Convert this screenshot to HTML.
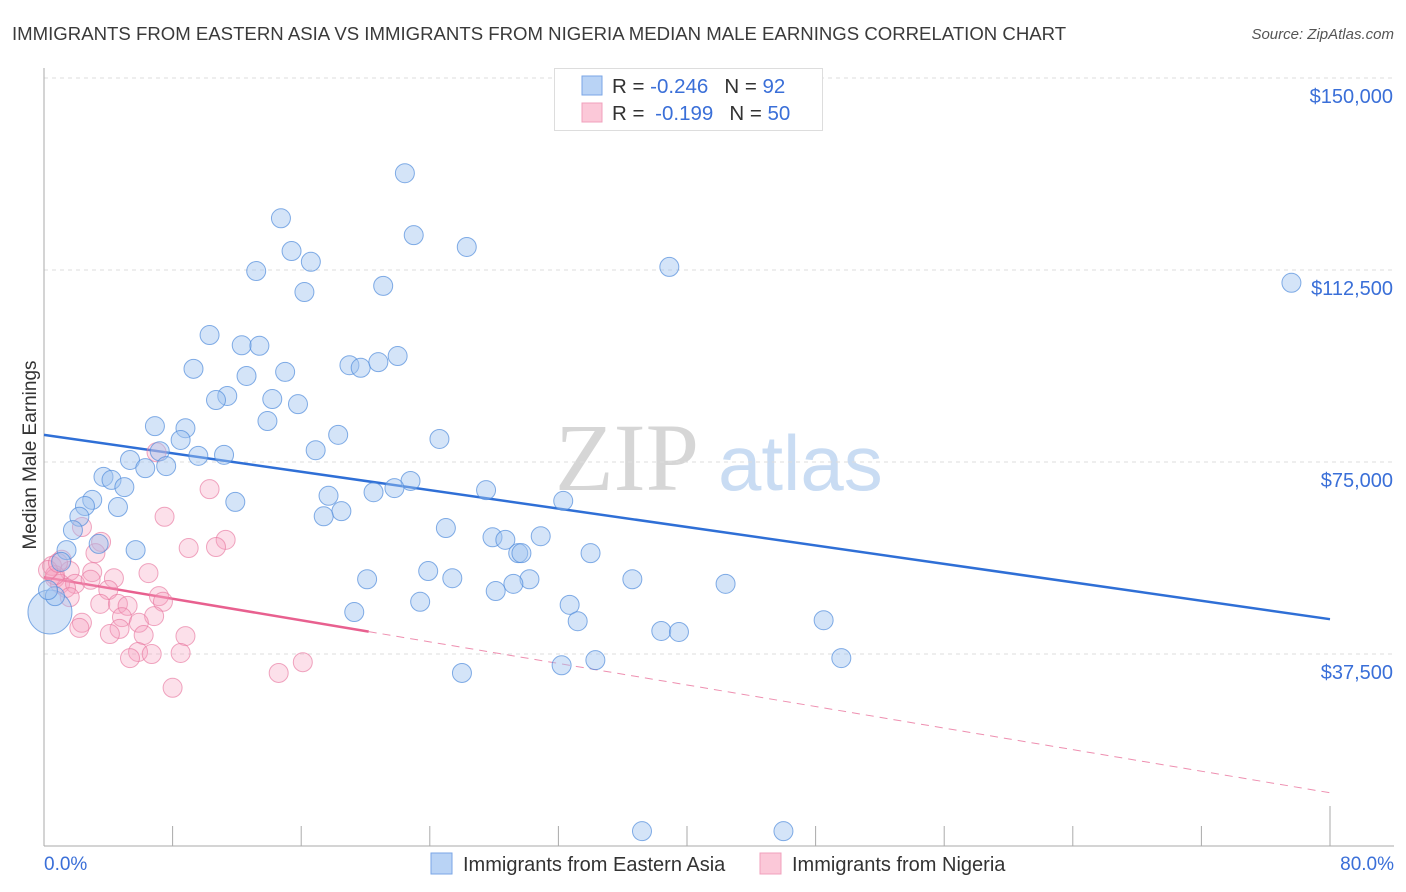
<!DOCTYPE html>
<html><head><meta charset="utf-8"><style>
body{margin:0;background:#fff;font-family:"Liberation Sans",sans-serif;}
#wrap{position:relative;width:1406px;height:892px;overflow:hidden;}
</style></head><body>
<div id="wrap">
<svg id="chart" width="1406" height="892" xmlns="http://www.w3.org/2000/svg">
<text x="12" y="40" font-size="18.6" fill="#3a3a3a">IMMIGRANTS FROM EASTERN ASIA VS IMMIGRANTS FROM NIGERIA MEDIAN MALE EARNINGS CORRELATION CHART</text>
<text x="1394" y="39" font-size="15" font-style="italic" fill="#555" text-anchor="end">Source: ZipAtlas.com</text>
<g>
<text x="555" y="490" font-family="Liberation Serif,serif" font-size="96" fill="#d6d6d6">ZIP</text>
<text x="718" y="490" font-size="78" fill="#c9dcf3">atlas</text>
</g>
<g id="grid"></g>
<g id="axes"></g>
<g id="trends"></g>
<g id="pts"></g>
<text x="36" y="455" font-size="19" fill="#333" text-anchor="middle" transform="rotate(-90 36 455)">Median Male Earnings</text>
<g>
<rect x="554.5" y="68.5" width="268" height="62" fill="#fff" stroke="#ddd"/>
<rect x="582" y="76" width="20" height="19" fill="#b9d3f5" stroke="#7aa6e6"/>
<rect x="582" y="103" width="20" height="19" fill="#fbc8d8" stroke="#f0a0bc"/>
<text x="612" y="93" font-size="20.5" fill="#333">R = <tspan fill="#3a6fd8">-0.246</tspan><tspan dx="16">N = </tspan><tspan fill="#3a6fd8">92</tspan></text>
<text x="612" y="120" font-size="20.5" fill="#333">R = <tspan fill="#3a6fd8" dx="5">-0.199</tspan><tspan dx="16">N = </tspan><tspan fill="#3a6fd8">50</tspan></text>
</g>
<g>
<rect x="431" y="853" width="21" height="21" fill="#b9d3f5" stroke="#7aa6e6"/>
<text x="463" y="871" font-size="20" fill="#333">Immigrants from Eastern Asia</text>
<rect x="760" y="853" width="21" height="21" fill="#fbc8d8" stroke="#f0a0bc"/>
<text x="792" y="871" font-size="20" fill="#333">Immigrants from Nigeria</text>
</g>
</svg>
</div>
<script>
const yTicks=[37500,75000,112500,150000];
const yTickLabels=["$37,500","$75,000","$112,500","$150,000"];
const xTickVals=[0,8,16,24,32,40,48,56,64,72,80];
const xLabels=["0.0%","80.0%"];
const blueX=[22.45,14.74,23.0,26.3,15.4,16.6,13.2,38.9,77.6,21.1,16.2,10.3,12.3,13.4,22.0,19.0,19.7,20.8,9.3,15.0,12.6,11.4,10.7,14.2,15.8,13.9,6.9,8.8,8.5,18.3,24.6,7.2,16.9,9.6,11.2,5.35,6.3,7.6,3.7,4.2,5.0,22.8,21.8,20.5,27.5,3.0,11.9,17.7,32.3,2.55,4.6,18.5,17.4,2.2,25.0,1.8,30.9,27.9,28.7,3.4,5.7,29.5,29.7,34.0,1.4,1.06,23.9,20.1,25.4,36.6,30.2,29.2,42.4,28.1,23.4,19.3,32.7,33.2,48.5,38.4,39.5,34.3,32.2,49.6,26.0,37.2,46.0,0.37,0.68,0.25];
const blueY=[131.4,122.6,119.3,117.0,116.2,114.1,112.3,113.1,110.0,109.4,108.2,99.8,97.8,97.7,95.7,93.9,93.4,94.5,93.2,92.6,91.8,87.9,87.1,87.3,86.3,83.0,82.0,81.6,79.3,80.3,79.5,77.1,77.3,76.2,76.4,75.4,73.8,74.2,72.1,71.5,70.1,71.3,69.9,69.1,69.5,67.6,67.2,68.4,67.4,66.4,66.2,65.4,64.4,64.3,62.1,61.7,60.5,60.3,59.8,59.0,57.8,57.2,57.2,57.2,57.8,55.5,53.7,52.1,52.3,52.1,52.1,51.2,51.2,49.8,47.7,45.7,47.1,43.9,44.1,42.0,41.8,36.3,35.3,36.7,33.8,2.9,2.9,45.7,48.8,50.0];
const pinkX=[7.0,10.3,2.36,3.55,7.5,11.3,3.2,9.0,10.7,1.1,0.5,1.6,3.0,4.35,6.5,0.68,1.0,1.93,1.37,4.0,7.15,7.4,1.6,3.5,4.6,5.2,6.85,4.85,2.36,5.9,2.2,4.7,4.1,6.2,8.8,5.85,6.7,8.5,5.35,16.1,14.6,8.0,0.68,0.25,0.87,2.9];
const pinkY=[76.9,69.7,62.3,59.4,64.3,59.8,57.2,58.2,58.4,55.9,54.7,53.7,53.5,52.3,53.3,52.3,51.2,51.2,50.4,50.0,48.8,47.7,48.6,47.3,47.3,46.9,44.9,44.7,43.6,43.6,42.6,42.4,41.4,41.2,41.0,37.9,37.5,37.7,36.7,35.9,33.8,30.9,52.9,53.9,55.3,52.0];
const blueTrend=[80.3,44.3];
const pinkTrend=[52.5,10.4];
const pinkSolidEnd=20.2;
const NS="http://www.w3.org/2000/svg";
const X0=44,X1=1330,Y0=846;
const sx=v=>X0+(v/80)*(X1-X0);
const sy=v=>Y0-(v/37500)*192;
const syk=v=>sy(v*1000);
function mk(tag,attrs,parent){const e=document.createElementNS(NS,tag);for(const k in attrs)e.setAttribute(k,attrs[k]);parent.appendChild(e);return e;}
const grid=document.getElementById('grid'),axes=document.getElementById('axes'),trends=document.getElementById('trends'),pts=document.getElementById('pts');
yTicks.forEach((t,i)=>{
 const l=mk('line',{x1:X0,x2:1394,y1:sy(t),y2:sy(t),stroke:'#ddd','stroke-dasharray':'4,4'},grid);
 
 
 const tx=mk('text',{x:1393,y:sy(t)+25,'font-size':20,fill:'#3a6fd8','text-anchor':'end'},axes);
 tx.textContent=yTickLabels[i];
 
 
});
const yl=mk('line',{x1:X0,x2:X0,y1:68,y2:Y0,stroke:'#aaa'},axes);


const xl=mk('line',{x1:X0,x2:1394,y1:Y0,y2:Y0,stroke:'#aaa'},axes);


xTickVals.forEach((v,i)=>{
 const t=mk('line',{x1:sx(v),x2:sx(v),y1:(i==xTickVals.length-1?806:826),y2:Y0,stroke:'#aaa'},axes);
 
 
});
const xa=mk('text',{x:X0,y:870,'font-size':19,fill:'#3a6fd8'},axes);xa.textContent=xLabels[0];


const xb=mk('text',{x:1394,y:870,'font-size':19,fill:'#3a6fd8','text-anchor':'end'},axes);xb.textContent=xLabels[1];


pinkX.forEach((x,i)=>{
 const c=mk('circle',{cx:sx(x),cy:syk(pinkY[i]),r:9.5,fill:'rgba(245,160,190,0.32)',stroke:'rgba(232,120,160,0.65)','stroke-width':1},pts);
 
 
});
blueX.forEach((x,i)=>{
 const big=i===blueX.length-3;
 const c=mk('circle',{cx:sx(x),cy:syk(blueY[i]),r:big?22:9.5,fill:'rgba(160,196,240,0.45)',stroke:'rgba(80,140,220,0.7)','stroke-width':1},pts);
 
 
});
const bt=mk('line',{x1:sx(0),y1:syk(blueTrend[0]),x2:sx(80),y2:syk(blueTrend[1]),stroke:'#2f6fd6','stroke-width':2.5},trends);


const pyAt=x=>pinkTrend[0]+(pinkTrend[1]-pinkTrend[0])*x/80;
const pt=mk('line',{x1:sx(0),y1:syk(pinkTrend[0]),x2:sx(pinkSolidEnd),y2:syk(pyAt(pinkSolidEnd)),stroke:'#e8608f','stroke-width':2.5},trends);


const pd=mk('line',{x1:sx(pinkSolidEnd),y1:syk(pyAt(pinkSolidEnd)),x2:sx(80),y2:syk(pinkTrend[1]),stroke:'#ee8fb0','stroke-width':1,'stroke-dasharray':'8,6'},trends);


</script>
</body></html>
